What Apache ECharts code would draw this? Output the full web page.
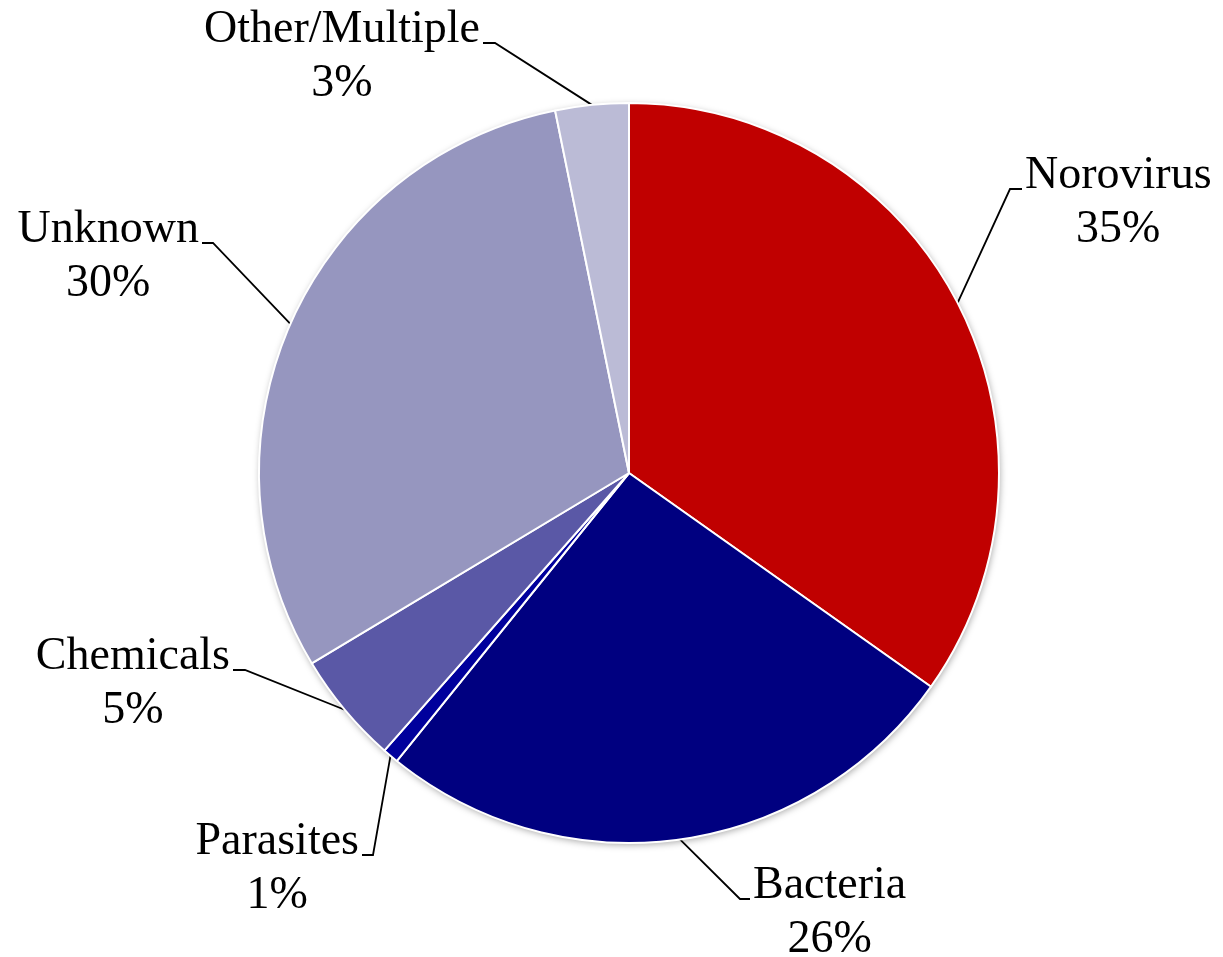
<!DOCTYPE html>
<html>
<head>
<meta charset="utf-8">
<script src="https://cdn.jsdelivr.net/npm/echarts@6/dist/echarts.min.js"></script>
<style>
  html, body { margin: 0; padding: 0; background: #ffffff; }
  #chart { width: 1223px; height: 957px; }
</style>
</head>
<body>
<div id="chart"></div>
<script>
// Outbreak causes, share of total
const categories = ['Norovirus', 'Bacteria', 'Parasites', 'Chemicals', 'Unknown', 'Other/Multiple'];
const shares = [34.8, 26.0, 0.7, 4.9, 30.4, 3.2];
const sliceColors = ['#C00000', '#000080', '#00009C', '#5A58A6', '#9696BF', '#BBBBD6'];

// Leader-line elbows: where each label line turns horizontal and where it stops.
const leaderElbows = {
  'Norovirus':      { bend: [1010, 189], end: [1022, 189], side: 'right' },
  'Bacteria':       { bend: [740, 899],  end: [750, 899],  side: 'right' },
  'Parasites':      { bend: [373, 855],  end: [362, 855],  side: 'left' },
  'Chemicals':      { bend: [245, 670],  end: [233, 670],  side: 'left' },
  'Unknown':        { bend: [213, 243],  end: [202, 243],  side: 'left' },
  'Other/Multiple': { bend: [495, 43],   end: [483, 43],   side: 'left' }
};

const CENTER = [629, 473];
const RADIUS = 370;
const FONT = 46;
const LINE_H = 54;

const total = shares.reduce((a, b) => a + b, 0);

// Point on the rim at the middle of each slice (clockwise from 12 o'clock)
function rimMidPoint(idx) {
  let before = 0;
  for (let i = 0; i < idx; i++) before += shares[i];
  const mid = (before + shares[idx] / 2) / total * Math.PI * 2;
  return [CENTER[0] + RADIUS * Math.sin(mid), CENTER[1] - RADIUS * Math.cos(mid)];
}

const chart = echarts.init(document.getElementById('chart'), null, { renderer: 'canvas' });

chart.setOption({
  animation: false,
  backgroundColor: '#ffffff',
  series: [
    {
      // soft drop shadow behind the whole pie
      type: 'pie',
      silent: true,
      center: CENTER,
      radius: RADIUS,
      z: 1,
      label: { show: false },
      labelLine: { show: false },
      emphasis: { disabled: true },
      data: [{
        value: total,
        itemStyle: {
          color: '#ffffff',
          shadowBlur: 7,
          shadowColor: 'rgba(0,0,0,0.35)',
          shadowOffsetX: 1,
          shadowOffsetY: 2
        }
      }]
    },
    {
      type: 'pie',
      center: CENTER,
      radius: RADIUS,
      startAngle: 90,
      clockwise: true,
      z: 2,
      avoidLabelOverlap: false,
      emphasis: { disabled: true },
      itemStyle: { borderColor: '#ffffff', borderWidth: 2 },
      label: {
        show: true,
        position: 'outside',
        color: '#000000',
        fontFamily: '"Liberation Serif", "Times New Roman", serif',
        fontSize: FONT,
        lineHeight: LINE_H,
        align: 'center',
        formatter: p => p.name + '\n' + Math.round(p.percent) + '%'
      },
      labelLine: {
        show: true,
        lineStyle: { color: '#000000', width: 1.8 }
      },
      labelLayout: function (params) {
        const name = categories[params.dataIndex];
        const spot = leaderElbows[name];
        const w = params.labelRect.width;
        const start = (params.labelLinePoints && params.labelLinePoints[0]) || rimMidPoint(params.dataIndex);
        const cx = spot.side === 'right' ? spot.end[0] + 3 + w / 2 : spot.end[0] - 3 - w / 2;
        return {
          x: cx,
          y: spot.end[1] - 13 - LINE_H / 2,
          align: 'center',
          verticalAlign: 'top',
          labelLinePoints: [start, spot.bend, spot.end]
        };
      },
      data: categories.map((name, i) => ({
        name: name,
        value: shares[i],
        itemStyle: { color: sliceColors[i] }
      }))
    }
  ]
});
</script>
</body>
</html>
